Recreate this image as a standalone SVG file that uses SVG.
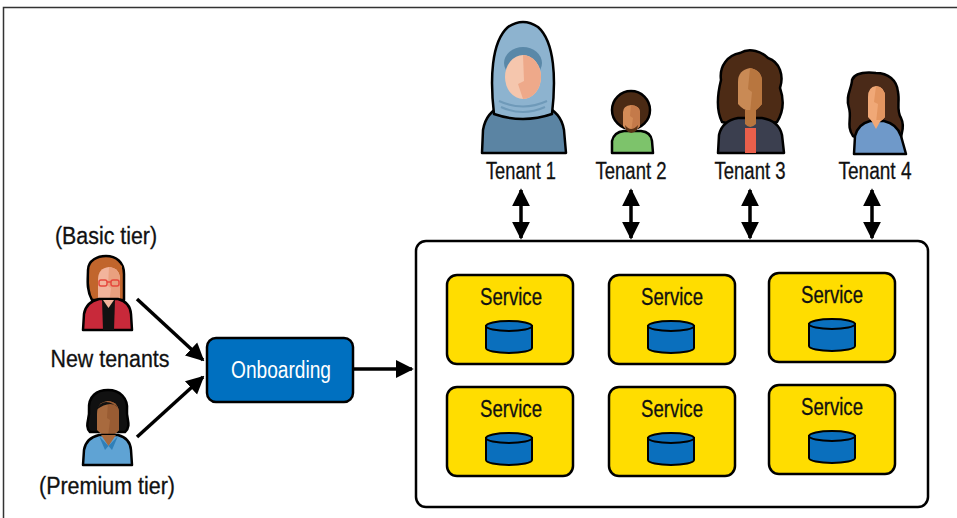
<svg xmlns="http://www.w3.org/2000/svg" width="957" height="518" viewBox="0 0 957 518">
  <style>
    .lbl { font-family: "Liberation Sans", Arial, sans-serif; font-size: 23px; fill: #111; text-anchor: middle; stroke: #111; stroke-width: 0.3; }
    .wlbl { font-family: "Liberation Sans", Arial, sans-serif; font-size: 23px; fill: #fff; text-anchor: middle; }
    .ol { stroke: #000; stroke-width: 2.5; stroke-linejoin: round; }
    .svc { fill: #ffdd00; stroke: #000; stroke-width: 2.5; }
    .db { fill: #0a6fbd; stroke: #000; stroke-width: 2; }
    .conn { stroke: #000; stroke-width: 3.5; fill: none; }
  </style>
  <defs>
    <marker id="head" viewBox="0 0 10 10" refX="9" refY="5" markerWidth="18" markerHeight="20" markerUnits="userSpaceOnUse" orient="auto-start-reverse">
      <path d="M0,0 L10,5 L0,10 Z" fill="#000"/>
    </marker>
    <g id="cyl">
      <path class="db" d="M-23,-11 L-23,11 A23,5 0 0 0 23,11 L23,-11 Z"/>
      <ellipse class="db" cx="0" cy="-11" rx="23" ry="5" fill="#1b7cc8"/>
    </g>
  </defs>

  <!-- page frame -->
  <path d="M3.5,518 L3.5,7.5 L957,7.5" fill="none" stroke="#333" stroke-width="1.5"/>

  <!-- tenant 1: hijab -->
  <g id="tenant1">
    <path class="ol" fill="#5b84a3" d="M482,153 L483,130 Q486,112 502,106 L544,106 Q561,112 564,130 L566,153 Z"/>
    <path class="ol" fill="#8db3cf" d="M494,114 C490,80 491,42 508,27 Q523,17 538,27 C555,42 556,80 552,114 Q523,124 494,114 Z"/>
    <ellipse cx="523" cy="63" rx="19" ry="16" fill="#5a88a8"/>
    <ellipse cx="523" cy="77" rx="18" ry="22" fill="#f5c6ad"/>
    <path d="M523,55 A18,22 0 0 1 523,99 L518,84 L524,81 Z" fill="#eea98a"/>
    <path d="M499,101 Q523,112 547,101 M501,107 Q523,117 545,107" stroke="#6f9ab9" stroke-width="2" fill="none"/>
  </g>

  <!-- tenant 2: afro, green shirt -->
  <g id="tenant2">
    <path class="ol" fill="#7dc36b" d="M612,153 L612,141 Q614,132 624,131 L641,131 Q651,132 652,141 L653,153 Z"/>
    <circle class="ol" cx="631" cy="110" r="19" fill="#4a2a14"/>
    <path d="M623,112 Q623,106 631,105 Q640,106 640,112 L640,126 Q631,137 623,126 Z" fill="#d38b57"/>
    <path d="M631,105 Q640,106 640,112 L640,126 Q636,131 631,132 L633,118 L630,116 Z" fill="#c47a4a"/>
    <path d="M625,125 Q631,133 638,125 L637,130 Q631,136 626,130 Z" fill="#5a3316"/>
  </g>

  <!-- tenant 3: curly hair, dark jacket -->
  <g id="tenant3">
    <path class="ol" fill="#4d2b15" d="M722,122 C715,108 718,92 721,80 C719,66 728,55 740,53 C750,47 762,52 768,58 C780,62 784,76 780,88 C785,102 782,114 777,122 C765,126 736,126 722,122 Z"/>
    <path class="ol" fill="#3b3f4f" d="M718,153 L719,135 Q722,121 738,118 L762,118 Q779,121 782,135 L784,153 Z"/>
    <rect x="745" y="128" width="11" height="25" fill="#ea5f4b"/>
    <path d="M738,82 Q738,70 750,68 Q762,70 762,82 L762,104 Q750,118 738,104 Z" fill="#c98a55"/>
    <path d="M750,68 Q762,70 762,82 L762,104 Q756,112 750,113 L752,92 L748,89 Z" fill="#b8763f"/>
    <path d="M745,110 L756,110 L756,124 Q750,130 745,124 Z" fill="#b8763f"/>
  </g>

  <!-- tenant 4: long wavy hair, blue top -->
  <g id="tenant4">
    <path class="ol" fill="#4a2a18" d="M853,136 C846,126 852,118 849,108 C845,96 852,88 852,80 C855,72 866,72 876,73 C888,73 897,80 898,92 C900,102 896,110 901,118 C906,128 900,134 901,140 C880,142 866,142 853,136 Z"/>
    <path class="ol" fill="#6f99c9" d="M854,154 L855,136 Q858,124 870,121 L884,121 Q897,124 901,136 L906,154 Z"/>
    <path d="M868,97 Q868,87 876,86 Q885,87 885,97 L885,117 Q876,128 868,117 Z" fill="#f0a877"/>
    <path d="M876,86 Q885,87 885,97 L885,117 Q881,122 876,123 L878,104 L874,102 Z" fill="#e39560"/>
    <path d="M871,120 L881,120 L876,129 Z" fill="#f0a877"/>
  </g>

  <!-- basic tier tenant: red jacket, glasses -->
  <g id="basicTenant">
    <path class="ol" fill="#c1652c" d="M92,300 C86,290 88,278 88,270 C88,260 98,256 106,256 C116,256 124,262 124,274 L124,300 Z"/>
    <path d="M98,280 Q98,268 109,267 Q120,268 120,280 L120,298 Q109,310 98,298 Z" fill="#f2b49c"/>
    <path d="M109,267 Q120,268 120,280 L120,298 Q115,303 109,304 L111,288 L108,286 Z" fill="#e9a07f"/>
    <path d="M98,266 Q110,258 122,272 L122,266 Q110,255 97,262 Z" fill="#c1652c"/>
    <g fill="none" stroke="#e5483d" stroke-width="1.5">
      <rect x="99" y="280" width="8" height="6" rx="2"/>
      <rect x="111" y="280" width="8" height="6" rx="2"/>
      <path d="M107,282 L111,282"/>
    </g>
    <path class="ol" fill="#c8293a" d="M83,330 L84,314 Q86,302 99,299 L118,299 Q130,302 131,314 L132,330 Z"/>
    <path d="M102,300 L115,300 L114,330 L103,330 Z" fill="#111"/>
    <path d="M103,300 L114,300 L108.5,308 Z" fill="#f2b49c"/>
  </g>

  <!-- premium tier tenant: black hair, blue shirt -->
  <g id="premiumTenant">
    <path class="ol" fill="#111" d="M90,432 C84,426 90,418 89,410 C88,396 97,390 108,390 C120,390 128,398 127,410 C126,418 132,426 125,432 Z"/>
    <path d="M97,414 Q97,402 108,401 Q119,402 119,414 L119,430 Q108,442 97,430 Z" fill="#a86a3e"/>
    <path d="M108,401 Q119,402 119,414 L119,430 Q114,436 108,437 L110,420 L107,418 Z" fill="#995c33"/>
    <path d="M96,410 Q104,394 121,410 Q112,398 96,410 Z" fill="#111"/>
    <path class="ol" fill="#5fa3d4" d="M83,465 L84,450 Q86,438 99,435 L118,435 Q130,438 131,450 L132,465 Z"/>
    <path d="M101,435 L116,435 L108.5,446 Z" fill="#a86a3e"/>
    <path d="M99,436 L108.5,446 L105,450 Z M118,436 L108.5,446 L112,450 Z" fill="#2f7fb8"/>
  </g>

  <!-- labels beside the tenants -->
  <text class="lbl" x="521" y="179" textLength="70" lengthAdjust="spacingAndGlyphs">Tenant 1</text>
  <text class="lbl" x="631" y="179" textLength="71" lengthAdjust="spacingAndGlyphs">Tenant 2</text>
  <text class="lbl" x="750" y="179" textLength="71" lengthAdjust="spacingAndGlyphs">Tenant 3</text>
  <text class="lbl" x="875" y="179" textLength="73" lengthAdjust="spacingAndGlyphs">Tenant 4</text>
  <text class="lbl" x="106" y="244" textLength="102" lengthAdjust="spacingAndGlyphs">(Basic tier)</text>
  <text class="lbl" x="110" y="367" textLength="119" lengthAdjust="spacingAndGlyphs">New tenants</text>
  <text class="lbl" x="107" y="494" textLength="136" lengthAdjust="spacingAndGlyphs">(Premium tier)</text>

  <!-- onboarding -->
  <g id="onboarding">
    <rect x="207" y="338" width="146" height="64" rx="9" fill="#0070c0" stroke="#000" stroke-width="2.5"/>
    <text class="wlbl" x="281" y="378" textLength="100" lengthAdjust="spacingAndGlyphs">Onboarding</text>
  </g>

  <!-- platform container -->
  <g id="platform">
    <rect x="416" y="241" width="512" height="266" rx="10" fill="#fff" stroke="#000" stroke-width="2.5"/>
  </g>

  <!-- services -->
  <g id="service-1-1">
    <rect class="svc" x="447" y="275" width="126" height="89" rx="10"/>
    <text class="lbl" x="511" y="305" textLength="62" lengthAdjust="spacingAndGlyphs">Service</text>
    <use href="#cyl" x="509" y="337"/>
  </g>
  <g id="service-1-2">
    <rect class="svc" x="609" y="275" width="126" height="89" rx="10"/>
    <text class="lbl" x="672" y="305" textLength="62" lengthAdjust="spacingAndGlyphs">Service</text>
    <use href="#cyl" x="671" y="337"/>
  </g>
  <g id="service-1-3">
    <rect class="svc" x="769" y="273" width="126" height="89" rx="10"/>
    <text class="lbl" x="832" y="303" textLength="62" lengthAdjust="spacingAndGlyphs">Service</text>
    <use href="#cyl" x="832" y="335"/>
  </g>
  <g id="service-2-1">
    <rect class="svc" x="447" y="387" width="126" height="89" rx="10"/>
    <text class="lbl" x="511" y="417" textLength="62" lengthAdjust="spacingAndGlyphs">Service</text>
    <use href="#cyl" x="509" y="449"/>
  </g>
  <g id="service-2-2">
    <rect class="svc" x="609" y="387" width="126" height="89" rx="10"/>
    <text class="lbl" x="672" y="417" textLength="62" lengthAdjust="spacingAndGlyphs">Service</text>
    <use href="#cyl" x="671" y="449"/>
  </g>
  <g id="service-2-3">
    <rect class="svc" x="769" y="385" width="126" height="89" rx="10"/>
    <text class="lbl" x="832" y="415" textLength="62" lengthAdjust="spacingAndGlyphs">Service</text>
    <use href="#cyl" x="832" y="447"/>
  </g>

  <!-- connectors -->
  <g id="connectors">
    <line class="conn" x1="137" y1="299" x2="203" y2="360" marker-end="url(#head)"/>
    <line class="conn" x1="137" y1="437" x2="203" y2="377" marker-end="url(#head)"/>
    <line class="conn" x1="353" y1="369" x2="412" y2="369" marker-end="url(#head)"/>
    <line class="conn" stroke-width="3" x1="521" y1="190" x2="521" y2="238" marker-start="url(#head)" marker-end="url(#head)"/>
    <line class="conn" stroke-width="3" x1="631" y1="190" x2="631" y2="238" marker-start="url(#head)" marker-end="url(#head)"/>
    <line class="conn" stroke-width="3" x1="750" y1="190" x2="750" y2="238" marker-start="url(#head)" marker-end="url(#head)"/>
    <line class="conn" stroke-width="3" x1="872" y1="190" x2="872" y2="238" marker-start="url(#head)" marker-end="url(#head)"/>
  </g>
</svg>
